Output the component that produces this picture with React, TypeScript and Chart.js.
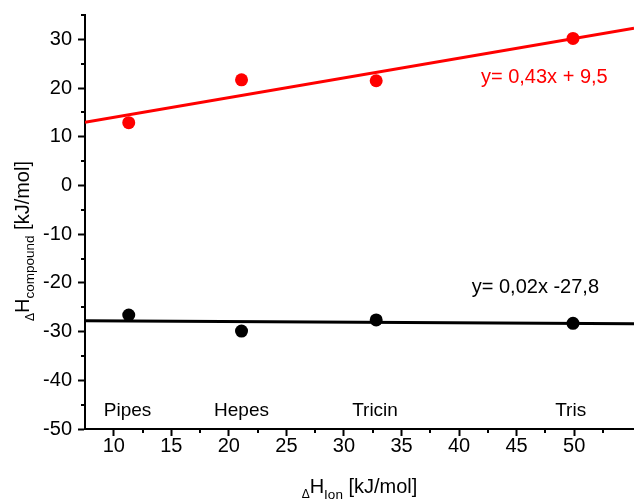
import { useEffect, useRef } from "react";
import { Chart, registerables } from "chart.js";

Chart.register(...registerables);

const buffers = ["Pipes", "Hepes", "Tricin", "Tris"];
const ionEnthalpy = [11.3, 21.1, 32.8, 49.9];
const compoundRed = [12.9, 21.7, 21.5, 30.2];
const compoundBlack = [-26.6, -29.9, -27.6, -28.3];

const fitX = [7.5, 55.2];
const fitRed = [13.0, 32.3];
const fitBlack = [-27.8, -28.4];

const equationRed = "y= 0,43x + 9,5";
const equationBlack = "y= 0,02x -27,8";

const xMajorTicks = [10, 15, 20, 25, 30, 35, 40, 45, 50];
const xMinorTicks = [12.5, 17.5, 22.5, 27.5, 32.5, 37.5, 42.5, 47.5, 52.5];
const yMajorTicks = [-50, -40, -30, -20, -10, 0, 10, 20, 30];
const yMinorTicks = [-45, -35, -25, -15, -5, 5, 15, 25, 35];

// annotation anchors in data units
const bufferLabelY = -46.3;
const bufferLabelX = [11.2, 21.1, 32.7, 49.7];
const eqRedPos = { x: 41.9, y: 22.1 };
const eqBlackPos = { x: 41.1, y: -21.0 };

const FONT = "'Liberation Sans', Arial, sans-serif";

type Part = { text: string; size: number; dy: number };

function partsWidth(ctx: CanvasRenderingContext2D, parts: Part[]) {
  let w = 0;
  for (const p of parts) {
    ctx.font = `${p.size}px ${FONT}`;
    w += ctx.measureText(p.text).width;
  }
  return w;
}

function drawParts(ctx: CanvasRenderingContext2D, parts: Part[], x: number, y: number) {
  let cx = x;
  ctx.textBaseline = "alphabetic";
  ctx.textAlign = "left";
  for (const p of parts) {
    ctx.font = `${p.size}px ${FONT}`;
    ctx.fillText(p.text, cx, y + p.dy);
    cx += ctx.measureText(p.text).width;
  }
}

const annotationPlugin = {
  id: "annotations",
  afterDraw(chart: any) {
    const ctx: CanvasRenderingContext2D = chart.ctx;
    const xs = chart.scales.x;
    const ys = chart.scales.y;
    const area = chart.chartArea;
    ctx.save();
    ctx.strokeStyle = "#000";
    ctx.lineWidth = 2;
    // minor ticks
    for (const v of xMinorTicks) {
      const px = Math.round(xs.getPixelForValue(v));
      ctx.beginPath();
      ctx.moveTo(px, area.bottom);
      ctx.lineTo(px, area.bottom + 4);
      ctx.stroke();
    }
    for (const v of yMinorTicks) {
      const py = Math.round(ys.getPixelForValue(v));
      ctx.beginPath();
      ctx.moveTo(area.left, py);
      ctx.lineTo(area.left - 4, py);
      ctx.stroke();
    }
    // buffer names
    ctx.fillStyle = "#000";
    ctx.font = `19px ${FONT}`;
    ctx.textAlign = "center";
    ctx.textBaseline = "middle";
    buffers.forEach((b, i) => {
      ctx.fillText(b, xs.getPixelForValue(bufferLabelX[i]), ys.getPixelForValue(bufferLabelY));
    });
    // equations
    ctx.textAlign = "left";
    ctx.font = `20px ${FONT}`;
    ctx.fillStyle = "#ff0000";
    ctx.fillText(equationRed, xs.getPixelForValue(eqRedPos.x), ys.getPixelForValue(eqRedPos.y));
    ctx.fillStyle = "#000";
    ctx.fillText(equationBlack, xs.getPixelForValue(eqBlackPos.x), ys.getPixelForValue(eqBlackPos.y));

    // x title
    const xParts: Part[] = [
      { text: "\u0394", size: 12, dy: 5 },
      { text: "H", size: 20, dy: 0 },
      { text: "Ion", size: 13.5, dy: 6 },
      { text: " [kJ/mol]", size: 20, dy: 0 },
    ];
    const wx = partsWidth(ctx, xParts);
    drawParts(ctx, xParts, (area.left + area.right) / 2 - wx / 2, 493);

    // y title
    const yParts: Part[] = [
      { text: "\u0394", size: 12, dy: 5 },
      { text: "H", size: 20, dy: 0 },
      { text: "compound", size: 13.5, dy: 5 },
      { text: " [kJ/mol]", size: 20, dy: 0 },
    ];
    const wy = partsWidth(ctx, yParts);
    ctx.translate(29, 241);
    ctx.rotate(-Math.PI / 2);
    drawParts(ctx, yParts, -wy / 2, 0);
    ctx.restore();
  },
};

export default function App() {
  const ref = useRef<HTMLCanvasElement>(null);
  useEffect(() => {
    document.body.style.margin = "0";
    const canvas = ref.current!;
    const chart = new Chart(canvas, {
      type: "scatter",
      data: {
        datasets: [
          {
            type: "line",
            data: fitX.map((x, i) => ({ x, y: fitRed[i] })),
            borderColor: "#ff0000",
            borderWidth: 3,
            pointRadius: 0,
            fill: false,
          },
          {
            type: "line",
            data: fitX.map((x, i) => ({ x, y: fitBlack[i] })),
            borderColor: "#000000",
            borderWidth: 3,
            pointRadius: 0,
            fill: false,
          },
          {
            data: ionEnthalpy.map((x, i) => ({ x, y: compoundRed[i] })),
            backgroundColor: "#ff0000",
            borderWidth: 0,
            pointRadius: 6.5,
          },
          {
            data: ionEnthalpy.map((x, i) => ({ x, y: compoundBlack[i] })),
            backgroundColor: "#000000",
            borderWidth: 0,
            pointRadius: 6.5,
          },
        ],
      } as any,
      options: {
        responsive: false,
        animation: false,
        events: [],
        layout: { autoPadding: false, padding: { top: 15, right: 0, left: 0, bottom: 0 } },
        plugins: { legend: { display: false }, tooltip: { enabled: false } },
        scales: {
          x: {
            type: "linear",
            min: 7.5,
            max: 55.2,
            afterFit(scale: any) {
              scale.height = 73;
              scale.paddingRight = 0;
              scale.paddingLeft = 0;
            },
            afterBuildTicks(scale: any) {
              scale.ticks = xMajorTicks.map((v) => ({ value: v }));
            },
            grid: { drawOnChartArea: false, drawTicks: true, tickLength: 7, tickWidth: 2, tickColor: "#000" },
            border: { display: true, color: "#000", width: 2 },
            ticks: {
              autoSkip: false,
              maxRotation: 0,
              color: "#000",
              font: { family: FONT, size: 20 },
              padding: -2,
              callback: (v: any) => String(v),
            },
          },
          y: {
            type: "linear",
            min: -50,
            max: 35,
            afterFit(scale: any) {
              scale.width = 85;
              scale.paddingTop = 0;
              scale.paddingBottom = 0;
            },
            afterBuildTicks(scale: any) {
              scale.ticks = yMajorTicks.map((v) => ({ value: v }));
            },
            grid: { drawOnChartArea: false, drawTicks: true, tickLength: 7, tickWidth: 2, tickColor: "#000" },
            border: { display: true, color: "#000", width: 2 },
            ticks: {
              autoSkip: false,
              color: "#000",
              font: { family: FONT, size: 20 },
              padding: 6,
              callback: (v: any) => String(v),
            },
          },
        },
      } as any,
      plugins: [annotationPlugin],
    });
    return () => chart.destroy();
  }, []);
  return <canvas ref={ref} width={634} height={502} style={{ display: "block" }} />;
}
